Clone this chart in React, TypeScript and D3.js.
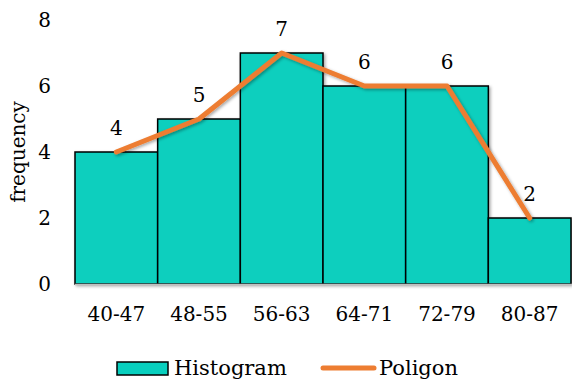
import React from "react";
import * as d3 from "d3";

const categories = ["40-47", "48-55", "56-63", "64-71", "72-79", "80-87"];
const frequencies = [4, 5, 7, 6, 6, 2];
const yTicks = [0, 2, 4, 6, 8];
const seriesNames = ["Histogram", "Poligon"];

const W = 572;
const H = 380;
const FONT = "'DejaVu Serif', 'Liberation Serif', serif";
const TEAL = "#08CFBE";
const ORANGE = "#ED7D31";

export default function App() {
  const x = d3.scaleBand<string>().domain(categories).range([75, 571]).padding(0);
  const y = d3.scaleLinear().domain([0, 8]).range([284, 20]);
  const line = d3
    .line<number>()
    .x((_, i) => (x(categories[i]) as number) + x.bandwidth() / 2)
    .y((d) => y(d));

  return (
    <svg
      width={W}
      height={H}
      style={{ position: "absolute", left: 0, top: 0, background: "#fff" }}
      fontFamily={FONT}
    >
      <defs>
        <filter id="sh" x="-20%" y="-20%" width="140%" height="140%">
          <feDropShadow dx="1.5" dy="1.5" stdDeviation="1.5" floodColor="#000" floodOpacity="0.35" />
        </filter>
      </defs>
      {yTicks.map((t) => (
        <text key={t} x={51} y={y(t)} textAnchor="end" dominantBaseline="central" fontSize={20} fill="#000">
          {t}
        </text>
      ))}
      <text
        transform={`translate(18,${y(4)}) rotate(-90)`}
        textAnchor="middle"
        dominantBaseline="central"
        fontSize={20}
        fill="#000"
      >
        frequency
      </text>
      <g filter="url(#sh)">
        {frequencies.map((f, i) => (
          <rect
            key={i}
            x={x(categories[i]) as number}
            y={y(f)}
            width={x.bandwidth()}
            height={y(0) - y(f)}
            fill={TEAL}
            stroke="#000"
            strokeWidth={1.5}
          />
        ))}
      </g>
      <line x1={75} x2={572} y1={y(0) + 0.5} y2={y(0) + 0.5} stroke="#BFBFBF" strokeWidth={1.5} />
      <path
        d={line(frequencies) as string}
        fill="none"
        stroke={ORANGE}
        strokeWidth={5}
        strokeLinecap="round"
        strokeLinejoin="round"
        filter="url(#sh)"
      />
      {frequencies.map((f, i) => (
        <text
          key={i}
          x={(x(categories[i]) as number) + x.bandwidth() / 2}
          y={y(f) - 24}
          textAnchor="middle"
          dominantBaseline="central"
          fontSize={20}
          fill="#000"
        >
          {f}
        </text>
      ))}
      {categories.map((c) => (
        <text
          key={c}
          x={(x(c) as number) + x.bandwidth() / 2}
          y={314}
          textAnchor="middle"
          dominantBaseline="central"
          fontSize={20}
          fill="#000"
        >
          {c}
        </text>
      ))}
      <rect x={117} y={362} width={51} height={13} fill={TEAL} stroke="#000" strokeWidth={1.5} />
      <text x={174} y={368} dominantBaseline="central" fontSize={21} fill="#000">
        {seriesNames[0]}
      </text>
      <line x1={323} x2={374} y1={368} y2={368} stroke={ORANGE} strokeWidth={5} strokeLinecap="round" />
      <text x={379} y={368} dominantBaseline="central" fontSize={21} fill="#000">
        {seriesNames[1]}
      </text>
    </svg>
  );
}
